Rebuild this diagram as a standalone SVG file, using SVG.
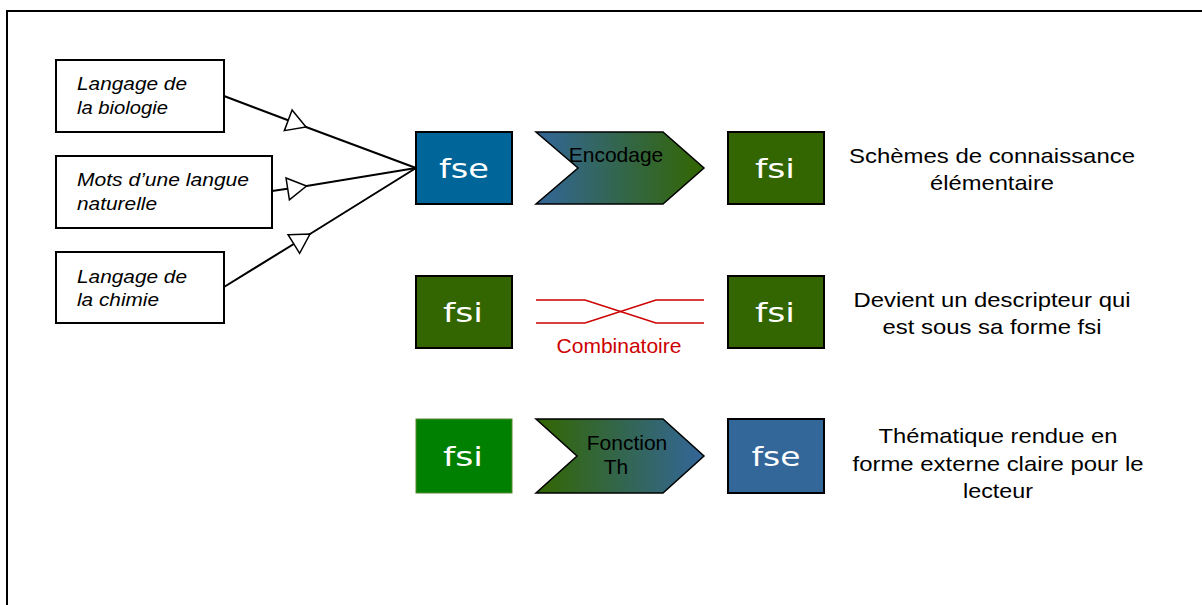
<svg xmlns="http://www.w3.org/2000/svg" width="1202" height="605" viewBox="0 0 1202 605">
<style>
.frame{fill:none;stroke:#000;stroke-width:2}
.src{fill:#fff;stroke:#000;stroke-width:2}
.srct{font-family:"Liberation Sans",Arial,sans-serif;font-style:italic;font-size:18px;fill:#000}
.box{stroke:#000;stroke-width:2}
.boxt{font-family:"DejaVu Sans","Verdana",sans-serif;font-size:27px;fill:#fff;text-anchor:middle}
.chev{stroke:#000;stroke-width:1.5}
.chevt{font-family:"Liberation Sans",Arial,sans-serif;font-size:21px;fill:#000;text-anchor:middle}
.desc{font-family:"Liberation Sans",Arial,sans-serif;font-size:21px;fill:#000;text-anchor:middle}
.conn{fill:none;stroke:#000;stroke-width:2;marker-mid:url(#openTri)}
.comb{fill:none;stroke:#cc0000;stroke-width:1.5}
.combt{font-family:"Liberation Sans",Arial,sans-serif;font-size:21px;fill:#cc0000;text-anchor:middle}
</style>
<defs>
<marker id="openTri" markerUnits="userSpaceOnUse" viewBox="-2 -13 24 26" refX="19" refY="0" markerWidth="24" markerHeight="26" orient="auto" overflow="visible">
<path d="M0,-11 L19,0 L0,11 Z" fill="#fff" stroke="#000" stroke-width="1.5" stroke-linejoin="miter"/>
</marker>
<linearGradient id="gBG" x1="0" y1="0" x2="1" y2="0">
<stop offset="0" stop-color="#336699"/>
<stop offset="1" stop-color="#336600"/>
</linearGradient>
<linearGradient id="gGB" x1="0" y1="0" x2="1" y2="0">
<stop offset="0" stop-color="#336600"/>
<stop offset="1" stop-color="#336699"/>
</linearGradient>
</defs>
<rect class="frame" x="7" y="11" width="1200" height="600"/>

<g id="connectors">
<path class="conn" d="M224,96 L306,127 L416,168"/>
<path class="conn" d="M272,191 L306.5,186 L416,168"/>
<path class="conn" d="M224,287 L310,234 L416,168"/>
</g>

<g id="src-biologie">
<rect class="src" x="56" y="60" width="168" height="72"/>
<text class="srct" x="77" y="90" textLength="110" lengthAdjust="spacingAndGlyphs">Langage de</text>
<text class="srct" x="77" y="114" textLength="91" lengthAdjust="spacingAndGlyphs">la biologie</text>
</g>
<g id="src-mots">
<rect class="src" x="56" y="156" width="216" height="72"/>
<text class="srct" x="77" y="186" textLength="172" lengthAdjust="spacingAndGlyphs">Mots d’une langue</text>
<text class="srct" x="77" y="210" textLength="80" lengthAdjust="spacingAndGlyphs">naturelle</text>
</g>
<g id="src-chimie">
<rect class="src" x="56" y="252" width="168" height="71"/>
<text class="srct" x="77" y="283" textLength="110" lengthAdjust="spacingAndGlyphs">Langage de</text>
<text class="srct" x="77" y="306" textLength="82" lengthAdjust="spacingAndGlyphs">la chimie</text>
</g>

<g id="row1-fse">
<rect class="box" x="416" y="132" width="96" height="72" fill="#006699"/>
<text class="boxt" x="464" y="178" textLength="50" lengthAdjust="spacingAndGlyphs">fse</text>
</g>
<g id="row1-encodage">
<polygon class="chev" points="536,132 663,132 704,168 663,204 536,204 578,168" fill="url(#gBG)"/>
<text class="chevt" x="616" y="162">Encodage</text>
</g>
<g id="row1-fsi">
<rect class="box" x="728" y="132" width="96" height="72" fill="#336600"/>
<text class="boxt" x="775" y="178" textLength="40" lengthAdjust="spacingAndGlyphs">fsi</text>
</g>
<g id="row1-desc">
<text class="desc" x="992" y="163" textLength="286" lengthAdjust="spacingAndGlyphs">Schèmes de connaissance</text>
<text class="desc" x="992" y="190" textLength="124" lengthAdjust="spacingAndGlyphs">élémentaire</text>
</g>

<g id="row2-fsi-left">
<rect class="box" x="416" y="276" width="96" height="72" fill="#336600"/>
<text class="boxt" x="463" y="322" textLength="40" lengthAdjust="spacingAndGlyphs">fsi</text>
</g>
<g id="row2-combinatoire">
<path class="comb" d="M536,300 L585,300 L656,323 L704,323"/>
<path class="comb" d="M536,323 L585,323 L656,300 L704,300"/>
<text class="combt" x="619" y="353">Combinatoire</text>
</g>
<g id="row2-fsi-right">
<rect class="box" x="728" y="276" width="96" height="72" fill="#336600"/>
<text class="boxt" x="775" y="322" textLength="40" lengthAdjust="spacingAndGlyphs">fsi</text>
</g>
<g id="row2-desc">
<text class="desc" x="992" y="307" textLength="277" lengthAdjust="spacingAndGlyphs">Devient un descripteur qui</text>
<text class="desc" x="992" y="334" textLength="219" lengthAdjust="spacingAndGlyphs">est sous sa forme fsi</text>
</g>

<g id="row3-fsi">
<rect x="416" y="419" width="96" height="74" fill="#008000" stroke="#5a8a2a" stroke-width="1"/>
<text class="boxt" x="463" y="466" textLength="40" lengthAdjust="spacingAndGlyphs">fsi</text>
</g>
<g id="row3-fonction">
<polygon class="chev" points="536,419 663,419 704,456 663,493 536,493 577,456" fill="url(#gGB)"/>
<text class="chevt" x="627" y="450">Fonction</text>
<text class="chevt" x="616" y="474">Th</text>
</g>
<g id="row3-fse">
<rect class="box" x="728" y="419" width="96" height="74" fill="#336699"/>
<text class="boxt" x="776" y="466" textLength="49" lengthAdjust="spacingAndGlyphs">fse</text>
</g>
<g id="row3-desc">
<text class="desc" x="998" y="443" textLength="239" lengthAdjust="spacingAndGlyphs">Thématique rendue en</text>
<text class="desc" x="998" y="471" textLength="291" lengthAdjust="spacingAndGlyphs">forme externe claire pour le</text>
<text class="desc" x="998" y="498" textLength="70" lengthAdjust="spacingAndGlyphs">lecteur</text>
</g>
</svg>
